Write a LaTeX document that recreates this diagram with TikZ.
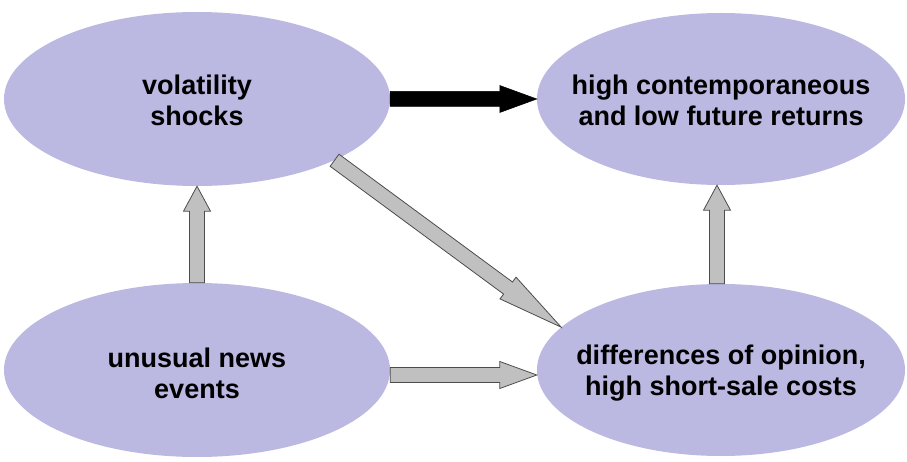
\documentclass[tikz,border=0pt]{standalone}
\usepackage{fontspec}
\setmainfont{Liberation Sans}
\usetikzlibrary{shapes,calc}
\definecolor{lavender}{RGB}{187,184,226}
\definecolor{arrowgray}{RGB}{192,192,192}
\tikzset{
    bubble/.style={ellipse, fill=lavender, draw=none, minimum width=386pt, minimum height=174pt, inner sep=0pt},
    smallbubble/.style={bubble, minimum width=368pt, minimum height=172pt},
    bubbletext/.style={align=center, font=\fontsize{27}{31}\selectfont\bfseries},
    grayarrow/.style={fill=arrowgray, draw=black!70, line width=0.8pt, line join=miter},
    blackarrow/.style={fill=black, draw=black, line width=0.5pt, line join=miter}
}
\newcommand{\blockarrow}[4][grayarrow]{%
    \coordinate (head) at ($(#3)!#4!(#2)$);
    \filldraw[#1] ($(#2)!7.5pt!90:(#3)$) -- ($(head)!7.5pt!90:(#3)$) -- ($(head)!13.5pt!90:(#3)$) -- (#3)
        -- ($(head)!13.5pt!-90:(#3)$) -- ($(head)!7.5pt!-90:(#3)$) -- ($(#2)!7.5pt!-90:(#3)$) -- cycle;
}

\begin{document}
\begin{tikzpicture}[x=1pt,y=-1pt]
	\useasboundingbox (0,0) rectangle (907,462);
	\node[bubble] (vol) at (197,99) {};
	\node[smallbubble] (ret) at (721,99) {};
	\node[bubble] (news) at (197,370) {};
	\node[smallbubble] (diff) at (721,370) {};
	\node[bubbletext] (vol-text) at ([yshift=-1pt]vol) {volatility\\shocks};
	\node[bubbletext] (ret-text) at ([yshift=-1pt]ret) {high contemporaneous\\and low future returns};
	\node[bubbletext] (news-text) at ([yshift=-3pt]news) {unusual news\\events};
	\node[bubbletext] (diff-text) at ([yshift=-3pt]diff) {differences of opinion,\\high short-sale costs};
	\coordinate (news-out) at ([yshift=-5pt]news.east);
	\coordinate (diff-in) at ([yshift=-5pt]diff.west);
	\coordinate (diff-top) at ([xshift=-4pt]diff.north);
	\coordinate (ret-bottom) at ([xshift=-4pt]ret.south);
	\blockarrow[blackarrow]{vol.east}{ret.west}{37pt}
	\blockarrow{news.north}{vol.south}{25pt}
	\blockarrow{diff-top}{ret-bottom}{25pt}
	\blockarrow{news-out}{diff-in}{37pt}
	\blockarrow{vol.-24}{diff.165}{66pt}
\end{tikzpicture}
\end{document}
